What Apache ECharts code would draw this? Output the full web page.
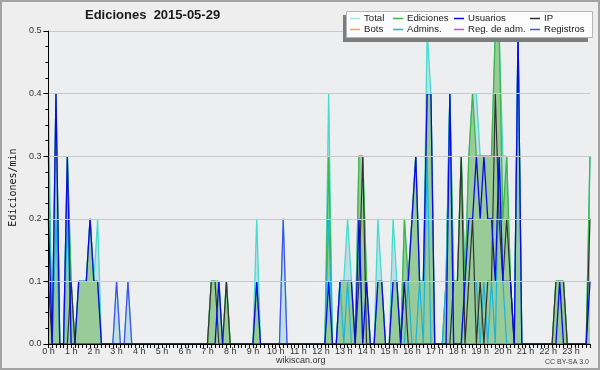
<!DOCTYPE html>
<html>
<head>
<meta charset="utf-8">
<script src="https://cdn.jsdelivr.net/npm/echarts/dist/echarts.min.js"></script>
<style>
  html, body {margin: 0; padding: 0; background: #eeeeee;}
  #main {width: 600px; height: 370px;}
</style>
</head>
<body>
<div id="main"></div>
<script>
// ediciones por minuto, tramos de 10 min (144 por día)
const total = [
  .4, 0, .4, 0, 0, .3, .1, 0, .1, .1, .1, .2,
  .1, .2, 0, 0, 0, 0, .1, 0, 0, .1, 0, 0,
  0, 0, 0, 0, 0, 0, 0, 0, 0, 0, 0, 0,
  0, 0, 0, 0, 0, 0, 0, .1, .1, .1, 0, .1,
  0, 0, 0, 0, 0, 0, 0, .2, 0, 0, 0, 0,
  0, 0, .2, 0, 0, 0, 0, 0, 0, 0, 0, 0,
  0, 0, .4, 0, 0, .1, .1, .2, .1, 0, .3, .3,
  .1, 0, 0, .2, .1, 0, 0, .2, .1, 0, .2, .1,
  .2, .3, .1, .1, .5, .4, 0, 0, 0, .1, .4, .1,
  .1, .3, .1, .3, .4, .4, .3, .3, .3, .3, .5, .5,
  .3, .3, .1, 0, .5, 0, 0, 0, 0, 0, 0, 0,
  0, 0, .1, .1, .1, 0, 0, 0, 0, 0, 0, .3
];
const ediciones = [
  .3, 0, .4, 0, 0, .3, .1, 0, .1, .1, .1, .2,
  .1, .1, 0, 0, 0, 0, 0, 0, 0, 0, 0, 0,
  0, 0, 0, 0, 0, 0, 0, 0, 0, 0, 0, 0,
  0, 0, 0, 0, 0, 0, 0, .1, .1, .1, 0, .1,
  0, 0, 0, 0, 0, 0, 0, .1, 0, 0, 0, 0,
  0, 0, 0, 0, 0, 0, 0, 0, 0, 0, 0, 0,
  0, 0, .3, 0, 0, .1, .1, .1, .1, 0, .3, .3,
  .1, 0, 0, .1, .1, 0, 0, .1, .1, 0, .2, .1,
  .2, .3, .1, .1, .4, .4, 0, 0, 0, .1, .4, .1,
  .1, .3, .1, .3, .4, .3, .3, .3, .3, .3, .5, .5,
  .2, .3, .1, 0, .5, 0, 0, 0, 0, 0, 0, 0,
  0, 0, .1, .1, .1, 0, 0, 0, 0, 0, 0, .3
];
const usuarios = [
  .2, 0, .4, 0, 0, .3, 0, 0, .1, .1, .1, .2,
  .1, .1, 0, 0, 0, 0, 0, 0, 0, 0, 0, 0,
  0, 0, 0, 0, 0, 0, 0, 0, 0, 0, 0, 0,
  0, 0, 0, 0, 0, 0, 0, 0, 0, .1, 0, 0,
  0, 0, 0, 0, 0, 0, 0, .1, 0, 0, 0, 0,
  0, 0, 0, 0, 0, 0, 0, 0, 0, 0, 0, 0,
  0, 0, .1, 0, 0, .1, .1, .1, .1, 0, .2, 0,
  .1, 0, 0, .1, .1, 0, 0, .1, .1, 0, .1, .1,
  .2, .3, .1, .1, .4, .4, 0, 0, 0, 0, .4, 0,
  0, 0, .1, .2, .2, .3, .2, .3, .2, .2, .1, .3,
  .1, .1, .1, 0, .5, 0, 0, 0, 0, 0, 0, 0,
  0, 0, 0, .1, 0, 0, 0, 0, 0, 0, 0, .1
];
const ip = [
  .1, 0, 0, 0, 0, 0, .1, 0, 0, 0, 0, 0,
  0, 0, 0, 0, 0, 0, 0, 0, 0, 0, 0, 0,
  0, 0, 0, 0, 0, 0, 0, 0, 0, 0, 0, 0,
  0, 0, 0, 0, 0, 0, 0, .1, .1, 0, 0, .1,
  0, 0, 0, 0, 0, 0, 0, 0, 0, 0, 0, 0,
  0, 0, 0, 0, 0, 0, 0, 0, 0, 0, 0, 0,
  0, 0, 0, 0, 0, 0, 0, 0, 0, 0, .1, .3,
  0, 0, 0, 0, 0, 0, 0, 0, 0, 0, .1, 0,
  0, 0, 0, 0, 0, 0, 0, 0, 0, 0, 0, .1,
  .1, .3, 0, .1, .2, 0, .1, 0, .1, .1, .4, .2,
  .1, .2, .1, 0, 0, 0, 0, 0, 0, 0, 0, 0,
  0, 0, .1, .1, .1, 0, 0, 0, 0, 0, 0, .2
];
const admins = [
  .3, 0, .2, 0, 0, .2, 0, 0, 0, 0, 0, 0,
  0, 0, 0, 0, 0, 0, 0, 0, 0, 0, 0, 0,
  0, 0, 0, 0, 0, 0, 0, 0, 0, 0, 0, 0,
  0, 0, 0, 0, 0, 0, 0, 0, 0, 0, 0, 0,
  0, 0, 0, 0, 0, 0, 0, 0, 0, 0, 0, 0,
  0, 0, 0, 0, 0, 0, 0, 0, 0, 0, 0, 0,
  0, 0, .2, 0, 0, .1, 0, .1, 0, 0, .2, 0,
  0, 0, 0, 0, 0, 0, 0, 0, 0, 0, 0, .1,
  0, 0, .1, 0, .3, 0, 0, 0, 0, .1, .4, 0,
  0, 0, .1, .1, .1, .1, 0, .1, 0, .1, 0, .3,
  .1, 0, 0, 0, .5, 0, 0, 0, 0, 0, 0, 0,
  0, 0, 0, 0, 0, 0, 0, 0, 0, 0, 0, 0
];
const registros = [
  0, 0, 0, 0, 0, 0, 0, 0, 0, 0, 0, 0,
  0, 0, 0, 0, 0, 0, .1, 0, 0, .1, 0, 0,
  0, 0, 0, 0, 0, 0, 0, 0, 0, 0, 0, 0,
  0, 0, 0, 0, 0, 0, 0, 0, 0, 0, 0, 0,
  0, 0, 0, 0, 0, 0, 0, 0, 0, 0, 0, 0,
  0, 0, .2, 0, 0, 0, 0, 0, 0, 0, 0, 0,
  0, 0, 0, 0, 0, 0, 0, 0, 0, 0, 0, 0,
  0, 0, 0, 0, 0, 0, 0, 0, 0, 0, 0, 0,
  0, 0, 0, 0, 0, 0, 0, 0, 0, 0, 0, 0,
  0, 0, 0, 0, 0, 0, 0, 0, 0, 0, 0, 0,
  0, 0, 0, 0, 0, 0, 0, 0, 0, 0, 0, 0,
  0, 0, 0, 0, 0, 0, 0, 0, 0, 0, 0, 0
];
// sin bots ni registros de administración ese día
const bots = new Array(144).fill(0);
const regAdm = new Array(144).fill(0);

const slots = [];
for (let h = 0; h < 24; h++) {
  for (let m = 0; m < 6; m++) slots.push(h + ':' + m + '0');
}

const sans = 'Liberation Sans';

const legendCol = (left, items) => ({
  left, top: 13, orient: 'vertical', padding: 0, itemGap: 0, z: 40,
  itemWidth: 10, itemHeight: 1.5, icon: 'rect',
  selectedMode: false,
  textStyle: {fontFamily: sans, fontSize: 9.6, color: '#222', lineHeight: 11, padding: [0, 0, 0, -1]},
  data: items
});

const line = (name, data, color, width, z) => ({
  name, type: 'line', data, color, z,
  symbol: 'none', animation: false,
  lineStyle: {color, width}
});

const chart = echarts.init(document.getElementById('main'));
chart.setOption({
  backgroundColor: '#eeeeee',
  animation: false,
  title: {
    text: 'Ediciones  2015-05-29', left: 85, top: 9, padding: 0,
    textStyle: {fontFamily: sans, fontSize: 13, fontWeight: 'bold', color: '#1a1a1a'}
  },
  legend: [
    legendCol(350, [{name: 'Total', itemStyle: {color: '#a6e6de'}}, 'Bots']),
    legendCol(393, ['Ediciones', 'Admins.']),
    legendCol(454, ['Usuarios', 'Reg. de adm.']),
    legendCol(530, ['IP', 'Registros'])
  ],
  grid: {left: 46, right: 10, top: 31, bottom: 26, show: true, backgroundColor: '#edeef0', borderWidth: 0},
  xAxis: {
    type: 'category', data: slots, boundaryGap: false, z: 10,
    axisLine: {lineStyle: {color: '#000', width: 1}},
    axisTick: {interval: 0, length: 4, lineStyle: {color: '#000'}},
    axisLabel: {
      interval: 5, margin: 3, color: '#333', fontFamily: sans, fontSize: 9,
      formatter: v => v.split(':')[0] + ' h'
    }
  },
  yAxis: {
    type: 'value', min: 0, max: 0.5, interval: 0.1, z: 10,
    name: 'Ediciones/min', nameLocation: 'middle', nameGap: 30,
    nameTextStyle: {fontFamily: 'DejaVu Sans Mono', fontSize: 10, color: '#111'},
    axisLine: {show: true, lineStyle: {color: '#000', width: 1}},
    axisTick: {show: true, length: 5, lineStyle: {color: '#000'}},
    minorTick: {show: true, splitNumber: 4, length: 3, lineStyle: {color: '#000'}},
    splitLine: {lineStyle: {color: '#c9c9c9'}},
    axisLabel: {margin: 7, color: '#333', fontFamily: sans, fontSize: 9, formatter: v => v.toFixed(1)}
  },
  graphic: {
    elements: [
      {type: 'rect', z: 20, shape: {x: 1, y: 1, width: 598, height: 368}, style: {fill: 'none', stroke: '#a3a3a3', lineWidth: 2}, silent: true},
      {type: 'rect', z: 20, shape: {x: 343, y: 15, width: 245, height: 27}, style: {fill: '#7d7d7d'}, silent: true},
      {type: 'rect', z: 21, shape: {x: 346.5, y: 11.5, width: 246, height: 26}, style: {fill: '#fcfcfc', stroke: '#b5b5b5', lineWidth: 1}, silent: true},
      {type: 'text', z: 21, left: 276, top: 356, style: {text: 'wikiscan.org', fontFamily: sans, fontSize: 9, fill: '#333'}},
      {type: 'text', z: 21, right: 11, top: 359, style: {text: 'CC BY-SA 3.0', fontFamily: sans, fontSize: 7, fill: '#444'}}
    ]
  },
  series: [
    Object.assign(line('Total', total, '#45dccc', 1.3, 2), {areaStyle: {color: '#c3dde8', opacity: 1}}),
    Object.assign(line('Ediciones', ediciones, '#3db64a', 1.3, 3), {areaStyle: {color: '#98cb98', opacity: 1}}),
    line('Bots', bots, '#ffa040', 1, 1),
    line('Reg. de adm.', regAdm, '#d848d8', 1, 1),
    line('Registros', registros, '#4b4bf2', 1.2, 4),
    line('Admins.', admins, '#1bb4dc', 1.2, 5),
    line('IP', ip, '#333333', 1.2, 6),
    line('Usuarios', usuarios, '#0a0ae8', 1.3, 7)
  ]
});
</script>
</body>
</html>
